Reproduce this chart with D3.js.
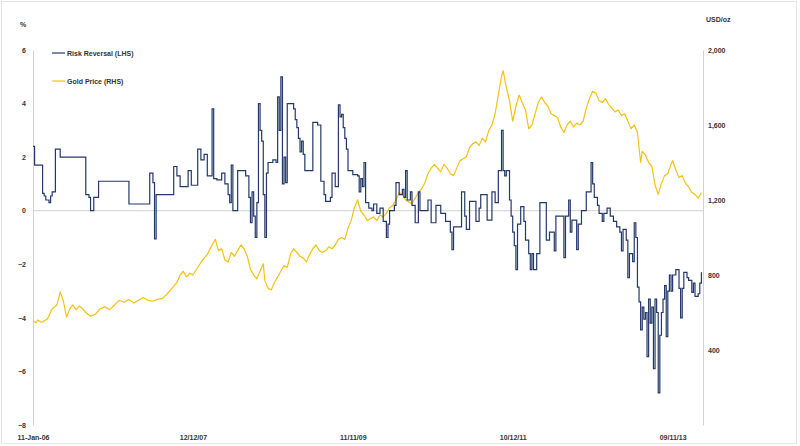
<!DOCTYPE html>
<html>
<head>
<meta charset="utf-8">
<script src="https://d3js.org/d3.v7.min.js"></script>
<style>
  body { margin: 0; background: #fff; }
  svg text { font-family: "Liberation Sans", Arial, sans-serif; fill: #333; }
</style>
</head>
<body>
<svg id="chart" width="800" height="446"></svg>
<script>
// x axis is weekly, week 0 = 11-Jan-06
var xTickWeeks = [0, 100, 200, 300, 400]
var xTickLabels = ["11-Jan-06", "12/12/07", "11/11/09", "10/12/11", "09/11/13"]
var leftTicks = [-8, -6, -4, -2, 0, 2, 4, 6]
var rightTicks = [400, 800, 1200, 1600, 2000]

// risk reversal (%), [week, value] change points, held until next point
var riskReversal = [
  [0, 2.4], [1, 1.7], [6, 0.65], [7, 0.55], [8, 0.4], [10, 0.3], [11, 0.55], [12, 0.7],
  [14, 2.3], [17, 2.0], [33, 0.6], [35, 0.5], [36, 0.0], [38, 0.5], [41, 1.1], [60, 0.25],
  [73, 1.4], [75, 1.05], [76, -1.05], [77, 0.6], [88, 1.65], [90, 1.3], [92, 0.9], [97, 1.5],
  [99, 0.95], [103, 2.3], [105, 1.9], [107, 2.1], [109, 1.3], [112, 3.8], [113, 1.2], [115, 1.15],
  [118, 1.4], [120, 1.0], [122, 0.6], [123, 0.3], [124, 1.7], [125, 0.0], [128, 1.5], [133, 1.3],
  [135, 0.5], [136, -0.45], [137, 0.7], [138, -0.2], [139, -1.0], [140, 0.3], [141, 4.0], [142, 3.0],
  [143, 2.6], [144, 0.6], [145, -1.0], [146, 1.4], [147, 1.8], [150, 1.9], [152, 1.8], [153, 4.25],
  [154, 3.0], [155, 5.0], [156, 1.0], [157, 2.0], [158, 1.05], [159, 4.0], [163, 3.8], [164, 3.4],
  [165, 3.1], [166, 2.7], [167, 2.2], [168, 2.6], [169, 2.1], [170, 1.5], [175, 3.3], [178, 3.2],
  [180, 1.1], [182, 0.6], [183, 0.35], [186, 0.5], [187, 1.4], [189, 0.9], [191, 3.95], [192, 3.5],
  [193, 3.6], [194, 3.1], [195, 2.7], [196, 2.3], [197, 1.5], [200, 1.35], [203, 1.3], [204, 0.7],
  [205, 1.2], [206, 0.9], [207, 1.8], [208, 0.3], [210, 0.1], [212, 0.0], [213, 0.25], [215, -0.1],
  [217, 0.1], [219, -0.4], [221, -1.0], [222, -0.5], [223, 0.0], [226, 0.2], [227, 1.05], [229, 0.6],
  [231, 0.8], [232, 0.5], [233, 1.5], [234, 0.4], [236, 0.7], [237, 0.2], [239, -0.45], [241, 0.7],
  [242, 0.0], [247, 0.4], [249, -0.45], [252, 0.2], [255, -0.1], [258, -0.4], [261, -0.8], [262, -1.45],
  [263, -0.6], [268, 0.7], [270, -0.2], [271, -0.7], [273, 0.35], [277, -0.4], [279, 0.1], [280, 0.6],
  [284, -0.35], [287, 0.7], [289, 0.3], [291, 1.5], [293, 3.0], [294, 1.5], [295, 1.3], [296, 1.5],
  [298, 0.4], [299, -0.2], [300, -0.8], [301, -1.3], [302, -2.2], [303, -0.5], [305, 0.15], [307, -0.4],
  [308, -1.1], [310, -1.6], [311, -2.2], [312, -1.6], [313, -2.2], [315, -1.6], [317, 0.3], [321, -1.1],
  [323, -0.8], [326, -1.5], [327, -0.2], [332, -1.75], [333, -0.2], [335, 0.4], [336, -0.8], [337, -0.35],
  [340, -1.45], [341, -0.5], [343, 0.0], [346, 0.7], [349, 1.8], [350, 1.0], [351, 0.5], [353, 0.2],
  [354, -0.1], [356, -0.4], [357, -0.1], [359, 0.1], [361, -0.2], [363, -0.4], [365, -0.6], [367, -0.8],
  [368, -1.5], [369, -0.7], [371, -1.1], [372, -2.5], [373, -1.6], [375, -1.9], [376, -0.45], [377, -1.0],
  [378, -2.85], [379, -3.4], [380, -4.45], [381, -3.6], [382, -4.05], [383, -3.8], [384, -5.45], [385, -3.3],
  [386, -4.2], [387, -3.6], [388, -5.9], [389, -3.3], [390, -3.8], [391, -6.8], [392, -4.65], [393, -3.8],
  [394, -3.3], [395, -2.8], [396, -4.7], [397, -3.0], [398, -2.4], [399, -3.0], [400, -2.4], [402, -2.2],
  [404, -2.9], [405, -4.0], [406, -2.9], [407, -2.3], [409, -2.5], [410, -2.6], [412, -3.05], [413, -2.7],
  [414, -3.2], [416, -3.1], [417, -2.7], [418, -2.3]
]

// gold price (USD/oz), [week, value]
var goldPrice = [
  [0, 555], [2, 545], [3, 560], [5, 548], [6, 550], [9, 565], [12, 620], [15, 640], [17, 710], [19, 660], [21, 575],
  [23, 620], [25, 640], [27, 615], [29, 635], [31, 620], [33, 600], [36, 580], [39, 590], [42, 620],
  [45, 630], [48, 615], [51, 640], [54, 665], [57, 655], [60, 670], [63, 650], [66, 665], [69, 680],
  [72, 665], [75, 660], [78, 670], [81, 675], [84, 700], [87, 730], [90, 760], [92, 800], [94, 820],
  [96, 790], [98, 810], [100, 800], [103, 840], [106, 880], [109, 910], [112, 960], [114, 990], [116, 930],
  [118, 940], [120, 880], [122, 870], [124, 920], [126, 900], [128, 930], [130, 960], [132, 940], [134, 900],
  [136, 830], [138, 800], [140, 780], [142, 820], [144, 860], [145, 770], [147, 730], [149, 720], [151, 760],
  [153, 790], [155, 820], [157, 850], [159, 840], [161, 910], [163, 940], [165, 920], [167, 900], [169, 890],
  [171, 870], [173, 910], [175, 940], [177, 960], [179, 930], [181, 920], [183, 930], [185, 950], [187, 940],
  [189, 960], [191, 990], [193, 1000], [195, 990], [197, 1050], [199, 1090], [201, 1160], [203, 1200],
  [205, 1140], [207, 1120], [209, 1090], [211, 1100], [213, 1110], [215, 1090], [217, 1120], [219, 1110],
  [221, 1130], [223, 1160], [225, 1170], [227, 1200], [229, 1240], [231, 1230], [233, 1200], [235, 1190],
  [237, 1180], [239, 1210], [241, 1240], [243, 1260], [245, 1290], [247, 1340], [249, 1370], [251, 1390],
  [253, 1370], [255, 1350], [257, 1390], [259, 1370], [261, 1340], [263, 1330], [265, 1370], [267, 1410],
  [269, 1420], [271, 1430], [273, 1480], [275, 1500], [277, 1510], [279, 1490], [281, 1530], [283, 1510],
  [285, 1570], [287, 1600], [289, 1660], [291, 1760], [293, 1860], [294, 1890], [296, 1800], [298, 1730],
  [300, 1620], [302, 1700], [304, 1760], [306, 1720], [308, 1680], [310, 1580], [312, 1600], [314, 1660],
  [316, 1720], [318, 1750], [320, 1720], [322, 1700], [324, 1660], [326, 1650], [328, 1640], [330, 1590],
  [332, 1560], [334, 1600], [336, 1620], [338, 1590], [340, 1610], [342, 1600], [344, 1620], [346, 1690],
  [348, 1740], [350, 1780], [352, 1770], [354, 1730], [356, 1720], [358, 1740], [360, 1710], [362, 1690],
  [364, 1670], [366, 1680], [368, 1650], [370, 1660], [372, 1620], [374, 1580], [376, 1600], [378, 1560],
  [380, 1400], [381, 1460], [383, 1440], [385, 1400], [387, 1380], [389, 1280], [391, 1230], [393, 1290],
  [395, 1330], [397, 1340], [399, 1390], [400, 1410], [402, 1360], [404, 1320], [406, 1330], [408, 1290],
  [410, 1270], [412, 1240], [414, 1230], [416, 1210], [418, 1240]
]

var svg = d3.select("#chart")

// outer frame
svg.append("rect")
  .attr("x", 1.5).attr("y", 1.5)
  .attr("width", 795).attr("height", 442)
  .attr("fill", "none")
  .attr("stroke", "#e3e3e3")

// plot area edges (px)
var pLeft = 33, pRight = 703, pTop = 50, pBottom = 425

var x = d3.scaleLinear().domain([0, 419]).range([pLeft, pRight])
var yL = d3.scaleLinear().domain([-8, 6]).range([pBottom, pTop])
var yR = d3.scaleLinear().domain([0, 2000]).range([pBottom, pTop])

// left axis
var gL = svg.append("g")
  .attr("transform", "translate(" + pLeft + ",0)")
  .call(d3.axisLeft(yL).tickValues(leftTicks).tickSize(0).tickPadding(7))
gL.select(".domain").attr("stroke", "#d0d0d0")
gL.selectAll("text").style("font-size", "7px").style("font-weight", "bold").attr("fill", "#333")

// right axis
var gR = svg.append("g")
  .attr("transform", "translate(" + pRight + ",0)")
  .call(d3.axisRight(yR).tickValues(rightTicks).tickSize(0).tickPadding(5).tickFormat(d3.format(",")))
gR.select(".domain").attr("stroke", "#d0d0d0")
gR.selectAll("text").style("font-size", "7px").style("font-weight", "bold").attr("fill", "#333")

// zero line acts as the category axis
svg.append("line")
  .attr("x1", pLeft).attr("x2", pRight)
  .attr("y1", yL(0)).attr("y2", yL(0))
  .attr("stroke", "#d0d0d0")

// x labels, low position
var gX = svg.append("g")
  .attr("transform", "translate(0," + (pBottom + 6) + ")")
  .call(d3.axisBottom(x).tickValues(xTickWeeks).tickSize(0).tickPadding(4)
    .tickFormat(function(d, i) { return xTickLabels[i] }))
gX.select(".domain").remove()
gX.selectAll("text").style("font-size", "7px").style("font-weight", "bold").attr("fill", "#333")

// unit labels
svg.append("text").attr("x", 23).attr("y", 27).attr("text-anchor", "middle")
  .style("font-size", "7px").style("font-weight", "bold").text("%")
svg.append("text").attr("x", 706).attr("y", 22)
  .style("font-size", "7px").style("font-weight", "bold").text("USD/oz")

// gold price line
var goldLine = d3.line()
  .x(function(d) { return x(d[0]) })
  .y(function(d) { return yR(d[1]) })
svg.append("path")
  .datum(goldPrice)
  .attr("d", goldLine)
  .attr("fill", "none")
  .attr("stroke", "#f5c211")
  .attr("stroke-width", 1.2)
  .attr("stroke-linejoin", "round")

// risk reversal line, stepped
var rrLine = d3.line()
  .curve(d3.curveStepAfter)
  .x(function(d) { return x(d[0]) })
  .y(function(d) { return yL(d[1]) })
svg.append("path")
  .datum(riskReversal)
  .attr("d", rrLine)
  .attr("fill", "none")
  .attr("stroke", "#23396a")
  .attr("stroke-width", 1.2)

// legend
var legend = [
  {name: "Risk Reversal (LHS)", color: "#23396a", y: 53},
  {name: "Gold Price (RHS)", color: "#f5c211", y: 81}
]
var lg = svg.selectAll("g.legend").data(legend).enter()
  .append("g").attr("class", "legend")
lg.append("line")
  .attr("x1", 52).attr("x2", 65)
  .attr("y1", function(d) { return d.y }).attr("y2", function(d) { return d.y })
  .attr("stroke", function(d) { return d.color })
  .attr("stroke-width", 1.2)
lg.append("text")
  .attr("x", 67).attr("y", function(d) { return d.y + 2.5 })
  .style("font-size", "7px").style("font-weight", "bold")
  .text(function(d) { return d.name })
</script>
</body>
</html>
